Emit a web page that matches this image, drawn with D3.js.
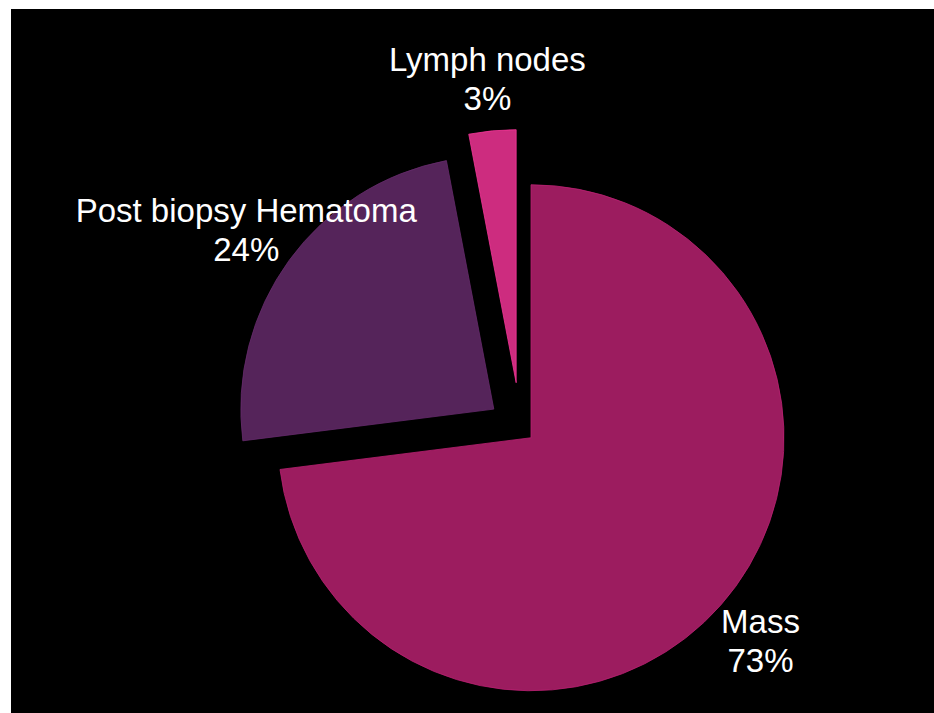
<!DOCTYPE html>
<html>
<head>
<meta charset="utf-8">
<script src="https://cdn.jsdelivr.net/npm/d3@7"></script>
<style>
  body { margin: 0; background: #fff; }
  svg { display: block; }
</style>
</head>
<body>
<div id="chart"></div>
<script>
// chart data
var categories = ["Mass", "Post biopsy Hematoma", "Lymph nodes"];
var values = [73, 24, 3];
var percentLabels = ["73%", "24%", "3%"];

// styling
var colors = ["#9c1c5f", "#55245a", "#cd2c7f"];
var explode = [14, 33, 46]; // how far each slice is pulled out

var width = 934, height = 713;
var radius = 253;
var cx = 520.5, cy = 428.5;

var svg = d3.select("#chart")
  .append("svg")
  .attr("width", width)
  .attr("height", height);

// black panel
svg.append("rect")
  .attr("x", 11)
  .attr("y", 9)
  .attr("width", width - 11)
  .attr("height", height - 9)
  .attr("fill", "#000");

var g = svg.append("g")
  .attr("transform", "translate(" + cx + "," + cy + ")");

var data = categories.map(function(c, i) {
  return { name: c, value: values[i], pct: percentLabels[i], idx: i };
});

var pie = d3.pie()
  .sort(null)
  .value(function(d) { return d.value; });

var arc = d3.arc().innerRadius(0).outerRadius(radius);
var labelArc = d3.arc().innerRadius(306).outerRadius(306);

var arcs = pie(data);

// offset along the mid angle of each slice
function shift(d) {
  var a = (d.startAngle + d.endAngle) / 2;
  var k = explode[d.data.idx];
  return [Math.sin(a) * k, -Math.cos(a) * k];
}

var slices = g.selectAll(".slice")
  .data(arcs)
  .enter()
  .append("g")
  .attr("class", "slice")
  .attr("transform", function(d) {
    var s = shift(d);
    return "translate(" + s[0] + "," + s[1] + ")";
  });

slices.append("path")
  .attr("d", arc)
  .attr("fill", function(d) { return colors[d.data.idx]; })
  .attr("stroke", function(d) { return d3.color(colors[d.data.idx]).brighter(0.5); })
  .attr("stroke-width", 0.8);

var labels = slices.append("text")
  .attr("transform", function(d) {
    var c = labelArc.centroid(d);
    return "translate(" + c[0] + "," + c[1] + ")";
  })
  .attr("text-anchor", "middle")
  .attr("fill", "#fff")
  .style("font-family", "'Liberation Sans', Arial, Helvetica, sans-serif")
  .style("font-size", "33px");

labels.append("tspan")
  .attr("x", 0)
  .attr("y", -7)
  .text(function(d) { return d.data.name; });

labels.append("tspan")
  .attr("x", 0)
  .attr("y", 32)
  .text(function(d) { return d.data.pct; });
</script>
</body>
</html>
